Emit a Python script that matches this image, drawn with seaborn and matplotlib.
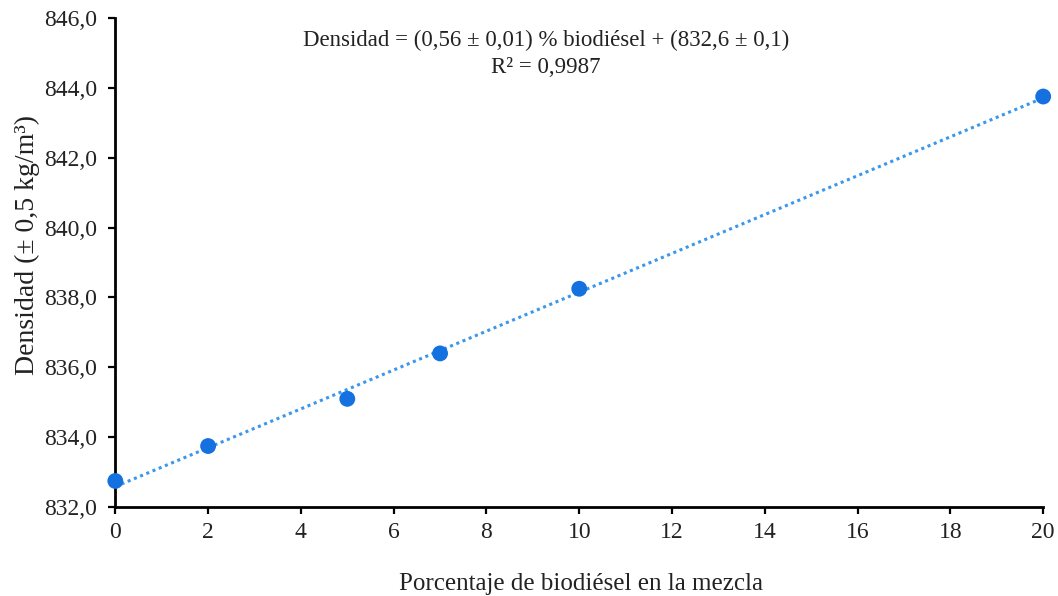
import numpy as np
import pandas as pd
import matplotlib
matplotlib.use("Agg")
import matplotlib.pyplot as plt
import seaborn as sns
from matplotlib.ticker import FuncFormatter

# Data
porcentaje = [0, 2, 5, 7, 10, 20]
densidad = [832.75, 833.75, 835.1, 836.4, 838.25, 843.75]
x_ticks = [0, 2, 4, 6, 8, 10, 12, 14, 16, 18, 20]
y_ticks = [832, 834, 836, 838, 840, 842, 844, 846]
ecuacion = "Densidad = (0,56 ± 0,01) % biodiésel + (832,6 ± 0,1)"
r2_texto = "R² = 0,9987"
xlabel = "Porcentaje de biodiésel en la mezcla"
ylabel = "Densidad (± 0,5 kg/m³)"

df = pd.DataFrame({"x": porcentaje, "y": densidad})

sns.set_theme(style="white")
plt.rcParams['font.family'] = ['Liberation Serif', 'DejaVu Serif']

fig = plt.figure(figsize=(10.58, 5.96), dpi=100)
ax = fig.add_axes([0.109, 0.149, 0.877, 0.821])

# Trend line (linear fit)
coef = np.polyfit(df["x"], df["y"], 1)
xl = np.array([min(porcentaje), max(porcentaje)])
sns.lineplot(x=xl, y=np.polyval(coef, xl), ax=ax, color="#3a97ea",
             linestyle=(0, (1, 1.2)), linewidth=2.2)
sns.scatterplot(data=df, x="x", y="y", ax=ax, color="#1570e0", s=130,
                edgecolor="none", zorder=3, clip_on=False)

ax.set_xlim(0, 20)
ax.set_ylim(832, 846)
ax.set_xticks(x_ticks)
ax.set_yticks(y_ticks)
ax.yaxis.set_major_formatter(FuncFormatter(lambda v, p: f"{v:.1f}".replace(".", ",")))
ax.xaxis.set_major_formatter(FuncFormatter(lambda v, p: f"{int(v)}"))

for s in ["top", "right"]:
    ax.spines[s].set_visible(False)
for s in ["left", "bottom"]:
    ax.spines[s].set_color("black")
    ax.spines[s].set_linewidth(2)

ax.tick_params(axis="both", direction="out", length=5, width=1.6, color="black",
               labelsize=17, labelcolor="#222222", left=True, bottom=True)
ax.tick_params(axis="x", pad=6)
ax.tick_params(axis="y", pad=8)

ax.set_xlabel(xlabel, fontsize=18, color="#222222")
ax.set_ylabel(ylabel, fontsize=20, color="#222222")
ax.xaxis.set_label_coords(0.502, -0.135)
ax.yaxis.set_label_coords(-0.081, 0.536)

ax.text(0.464, 0.953, ecuacion, transform=ax.transAxes, ha="center", va="center",
        fontsize=16.5, color="#222222")
ax.text(0.464, 0.898, r2_texto, transform=ax.transAxes, ha="center", va="center",
        fontsize=16.5, color="#222222")

fig.savefig("out.png", dpi=100, facecolor="white")
